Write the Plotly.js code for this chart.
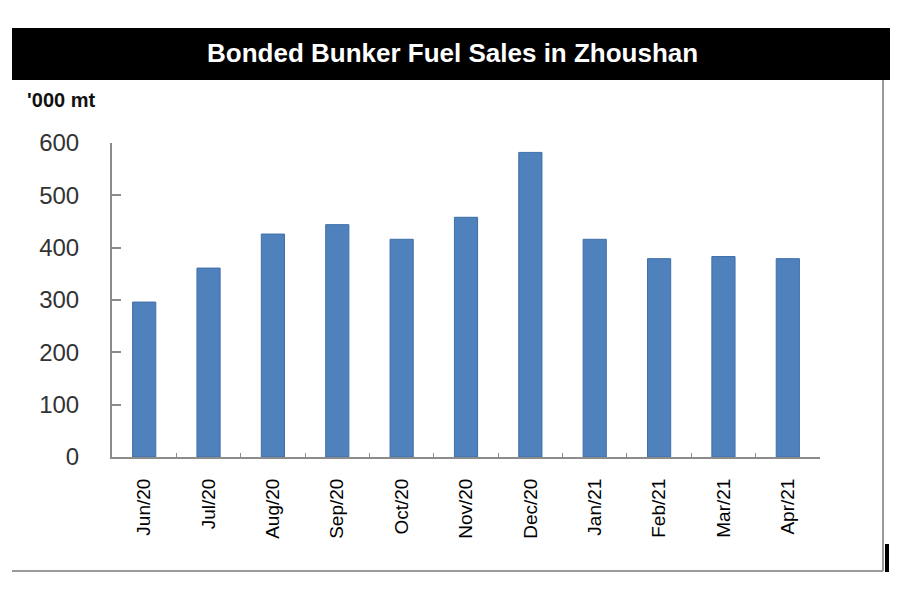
<!DOCTYPE html>
<html>
<head>
<meta charset="utf-8">
<script src="https://cdn.plot.ly/plotly-3.0.1.min.js"></script>
<style>html,body{margin:0;padding:0;background:#fff;}#chart{width:900px;height:600px;}</style>
</head>
<body>
<div id="chart"></div>
<script>
var months = ["Jun/20","Jul/20","Aug/20","Sep/20","Oct/20","Nov/20","Dec/20","Jan/21","Feb/21","Mar/21","Apr/21"];
var sales = [296, 361, 426, 444, 416, 458, 582, 416, 379, 383, 379];
var yTicks = [0, 100, 200, 300, 400, 500, 600];

var L = 112, R = 820, T = 143, B = 457;
var W = R - L, H = B - T;
function px(x){ return (x - L) / W; }
function py(y){ return (B - y) / H; }

var trace = {
  type: 'bar',
  x: months,
  y: sales,
  width: 0.36,
  marker: {color: '#4F81BD', line: {color: '#3E6FA8', width: 1}},
  hoverinfo: 'x+y'
};

var layout = {
  width: 900, height: 600,
  margin: {l: L, r: 900 - R, t: T, b: 600 - B, pad: 0},
  paper_bgcolor: '#ffffff',
  plot_bgcolor: '#ffffff',
  showlegend: false,
  bargap: 0.64,
  xaxis: {
    type: 'category',
    showgrid: false,
    showline: true, linecolor: '#8c8c8c', linewidth: 2,
    ticks: 'inside', tickson: 'boundaries', ticklen: 4, tickcolor: '#8c8c8c', tickwidth: 1,
    tickangle: -90,
    ticklabelstandoff: 12,
    tickfont: {family: 'Liberation Sans, Arial, sans-serif', size: 19, color: '#000000'},
    zeroline: false,
    fixedrange: true
  },
  yaxis: {
    range: [0, 600],
    tickvals: yTicks,
    ticktext: yTicks.map(String),
    showgrid: false,
    showline: true, linecolor: '#8c8c8c', linewidth: 2,
    ticks: 'inside', ticklen: 9, tickcolor: '#8c8c8c', tickwidth: 2,
    ticklabelstandoff: 26,
    tickfont: {family: 'Liberation Sans, Arial, sans-serif', size: 24, color: '#333333'},
    zeroline: false,
    fixedrange: true
  },
  shapes: [
    {type: 'rect', xref: 'paper', yref: 'paper', x0: px(12), x1: px(890), y0: py(80), y1: py(28),
     fillcolor: '#000000', line: {width: 0}, layer: 'above'},
    {type: 'line', xref: 'paper', yref: 'paper', x0: px(883), x1: px(883), y0: py(80), y1: py(571),
     line: {color: '#9a9a9a', width: 2}},
    {type: 'line', xref: 'paper', yref: 'paper', x0: px(12), x1: px(883), y0: py(571), y1: py(571),
     line: {color: '#9a9a9a', width: 2}},
    {type: 'rect', xref: 'paper', yref: 'paper', x0: px(885), x1: px(889), y0: py(572), y1: py(544),
     fillcolor: '#000000', line: {width: 0}}
  ],
  annotations: [
    {xref: 'paper', yref: 'paper', x: px(452), y: py(53), xanchor: 'center', yanchor: 'middle',
     text: '<b>Bonded Bunker Fuel Sales in Zhoushan</b>', showarrow: false,
     font: {family: 'Liberation Sans, Arial, sans-serif', size: 26, color: '#ffffff'}},
    {xref: 'paper', yref: 'paper', x: px(25), y: py(100), xanchor: 'left', yanchor: 'middle',
     text: "<b>'000 mt</b>", showarrow: false,
     font: {family: 'Liberation Sans, Arial, sans-serif', size: 20, color: '#111111'}}
  ]
};

Plotly.newPlot('chart', [trace], layout, {displayModeBar: false, staticPlot: true});
</script>
</body>
</html>
